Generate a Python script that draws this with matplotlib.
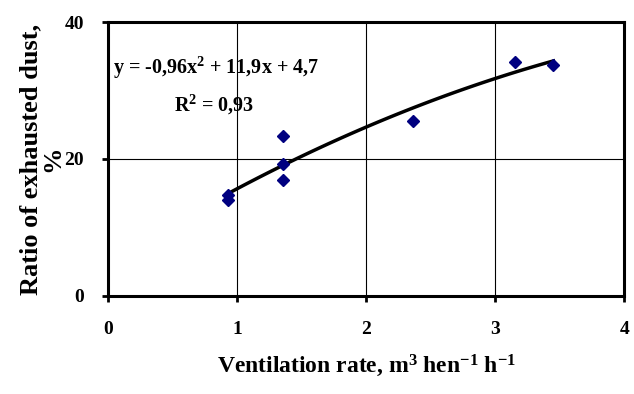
import numpy as np
import matplotlib.pyplot as plt

# measured points (ventilation rate vs. ratio of exhausted dust)
vent_rate = [0.93, 0.93, 1.36, 1.36, 1.36, 2.36, 3.15, 3.45]
dust_ratio = [14.7, 14.0, 23.3, 19.2, 17.0, 25.6, 34.2, 33.7]

# quadratic trend y = -0.96x^2 + 11.9x + 4.7
coef = [-0.96, 11.9, 4.7]
fit_x = np.linspace(min(vent_rate), max(vent_rate), 100)
fit_y = np.polyval(coef, fit_x)

plt.rcParams['font.family'] = ['Liberation Serif', 'DejaVu Serif']
plt.rcParams['font.weight'] = 'bold'
plt.rcParams['mathtext.fontset'] = 'custom'
plt.rcParams['mathtext.rm'] = 'Liberation Serif:bold'
plt.rcParams['mathtext.bf'] = 'Liberation Serif:bold'
plt.rcParams['mathtext.it'] = 'Liberation Serif:bold'
plt.rcParams['mathtext.default'] = 'bf'

fig = plt.figure(figsize=(6.34, 3.94), dpi=100)
ax = fig.add_axes([0.170, 0.249, 0.815, 0.695])

ax.plot(fit_x, fit_y, color='black', lw=2.5, zorder=3)
ax.plot(vent_rate, dust_ratio, linestyle='none', marker='D', ms=6.5,
        color='#000080', zorder=4)

ax.set_xlim(0, 4)
ax.set_ylim(0, 40)
ax.set_xticks([0, 1, 2, 3, 4])
ax.set_yticks([0, 20, 40])
ax.grid(True, color='black', lw=0.8)
ax.set_axisbelow(True)

for s in ax.spines.values():
    s.set_linewidth(2.2)
ax.tick_params(direction='out', length=4, width=2, labelsize=14, pad=14)
ax.tick_params(axis='y', pad=13)

ax.set_xlabel(r'Ventilation rate, m$^{3}$ hen$^{-1}$ h$^{-1}$',
              fontsize=17, fontweight='bold', labelpad=11)
ax.set_ylabel('Ratio of exhausted dust,\n%', fontsize=19, fontweight='bold',
              labelpad=0, linespacing=0.95)

ax.text(0.04, 33.3, r'y = -0,96x$^{2}$ + 11,9x + 4,7', fontsize=14.5,
        fontweight='bold', va='center', ha='left')
ax.text(0.82, 27.9, r'R$^{2}$ = 0,93', fontsize=14.5,
        fontweight='bold', va='center', ha='center')

fig.savefig('out.png', dpi=100)
